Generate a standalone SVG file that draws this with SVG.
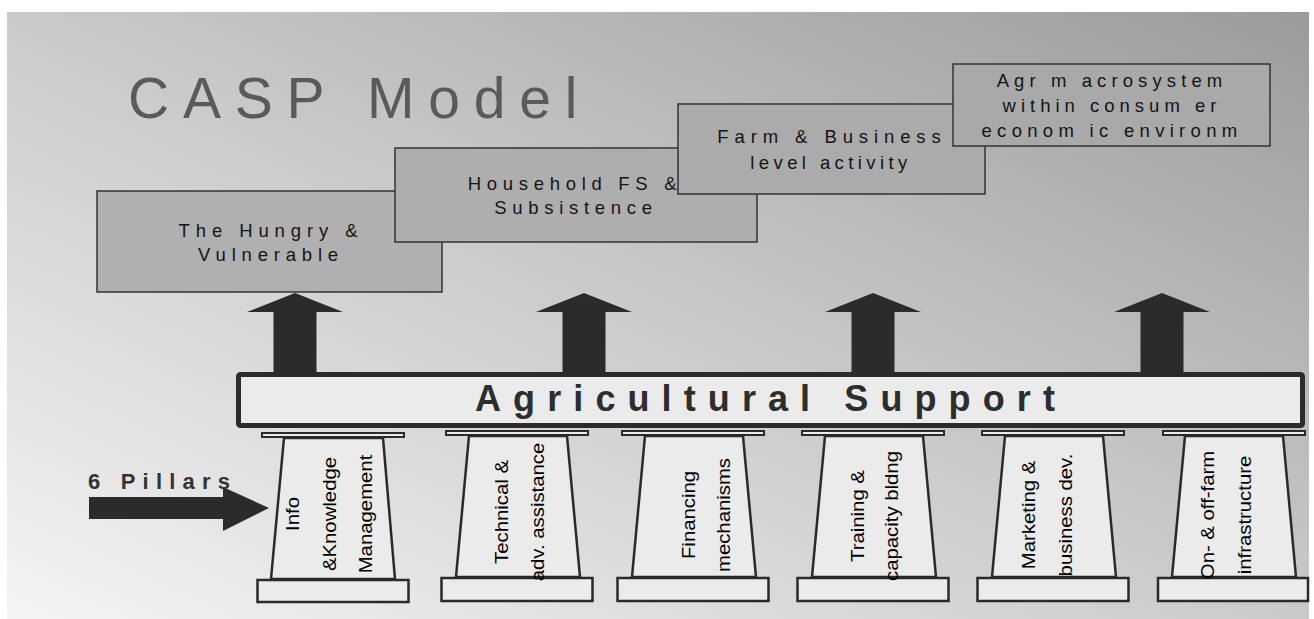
<svg xmlns="http://www.w3.org/2000/svg" width="1314" height="619" viewBox="0 0 1314 619">
  <style>
    .lvl { stroke: #333333; stroke-width: 1.5; }
    .lvl-text { font-family: "Liberation Sans", Arial, sans-serif; font-size: 18.5px; fill: #141414; text-anchor: middle; }
    .part { fill: #ebebeb; stroke: #2a2a2a; stroke-width: 2.5; stroke-linejoin: miter; }
    .cap { fill: #ebebeb; stroke: #2a2a2a; stroke-width: 2; }
    .pillar-text { font-family: "Liberation Sans", Arial, sans-serif; font-size: 18px; fill: #000000; text-anchor: middle; }
    .block { fill: #2b2b2b; }
  </style>
  <defs>
    <linearGradient id="bg" x1="0" y1="1" x2="1" y2="0">
      <stop offset="0" stop-color="#f4f4f4"/>
      <stop offset="0.5" stop-color="#cacaca"/>
      <stop offset="1" stop-color="#9b9b9b"/>
    </linearGradient>
  </defs>

  <!-- backdrop -->
  <rect x="0" y="0" width="1314" height="619" fill="#ffffff"/>
  <rect x="7" y="12" width="1302" height="607" fill="url(#bg)"/>

  <!-- title -->
  <text id="title" x="128" y="118" font-family="'Liberation Sans', Arial, sans-serif" font-size="57" letter-spacing="13.8" fill="#5a5a5a">CASP Model</text>

  <!-- levels, each drawn over the previous one -->
  <g id="level-hungry">
    <rect class="lvl" x="97" y="191" width="345" height="101" fill="#b0b0b0"/>
    <text class="lvl-text" letter-spacing="5.9" x="271" y="237">The Hungry &amp;</text>
    <text class="lvl-text" letter-spacing="5.8" x="271" y="261">Vulnerable</text>
  </g>
  <g id="level-household">
    <rect class="lvl" x="395" y="148" width="362" height="94" fill="#aeaeae"/>
    <text class="lvl-text" letter-spacing="5.7" x="575" y="190">Household FS &amp;</text>
    <text class="lvl-text" letter-spacing="5.7" x="576" y="214">Subsistence</text>
  </g>
  <g id="level-farm">
    <rect class="lvl" x="678" y="104" width="307" height="90" fill="#ababab" stroke="#555555"/>
    <text class="lvl-text" letter-spacing="5.9" x="832" y="143">Farm &amp; Business</text>
    <text class="lvl-text" letter-spacing="4.4" x="831" y="169">level activity</text>
  </g>
  <g id="level-macro">
    <rect class="lvl" x="953" y="64" width="317" height="82" fill="#a9a9a9"/>
    <text class="lvl-text" letter-spacing="5.1" x="1112" y="87">Agr m acrosystem</text>
    <text class="lvl-text" letter-spacing="5.0" x="1112" y="112">within consum er</text>
    <text class="lvl-text" letter-spacing="5.3" x="1112" y="137">econom ic environm</text>
  </g>

  <!-- block arrows -->
  <g id="connectors">
    <polygon class="block" points="295,293 343,312 316.5,312 316.5,376 273.5,376 273.5,312 247,312"/>
    <polygon class="block" points="584,293 632,312 605.5,312 605.5,376 562.5,376 562.5,312 536,312"/>
    <polygon class="block" points="873,293 921,312 894.5,312 894.5,376 851.5,376 851.5,312 825,312"/>
    <polygon class="block" points="1162,293 1210,312 1183.5,312 1183.5,376 1140.5,376 1140.5,312 1114,312"/>
    <polygon class="block" points="89,497 223,497 223,487 269,508 223,531 223,519 89,519"/>
  </g>

  <!-- support beam -->
  <g id="support">
    <rect x="238.5" y="374.5" width="1064" height="51" rx="2" fill="#ebebeb" stroke="#2b2b2b" stroke-width="5"/>
    <text x="475" y="411" font-family="'Liberation Sans', Arial, sans-serif" font-size="36" font-weight="bold" letter-spacing="12.1" fill="#2d2d2d">Agricultural Support</text>
  </g>

  <text id="pillars-label" x="88" y="489" font-family="'Liberation Sans', Arial, sans-serif" font-size="22" font-weight="bold" letter-spacing="7.2" fill="#333333">6 Pillars</text>

  <!-- pillars -->
  <g id="pillar-info">
    <rect class="cap" x="262" y="433" width="142" height="4"/>
    <polygon class="part" points="284,438 383,438 395,579 271,579"/>
    <rect class="part" x="257.5" y="580" width="151" height="22"/>
    <text class="pillar-text" transform="translate(299,514) rotate(-90) scale(1.13,1)">Info</text>
    <text class="pillar-text" transform="translate(336,514) rotate(-90) scale(1.13,1)">&amp;Knowledge</text>
    <text class="pillar-text" transform="translate(372,514) rotate(-90) scale(1.13,1)">Management</text>
  </g>
  <g id="pillar-technical">
    <rect class="cap" x="446" y="431" width="142" height="4"/>
    <polygon class="part" points="469,436 567,436 580,577 456,577"/>
    <rect class="part" x="441.5" y="578" width="151" height="23"/>
    <text class="pillar-text" transform="translate(508,512) rotate(-90) scale(1.13,1)">Technical &amp;</text>
    <text class="pillar-text" transform="translate(544,512) rotate(-90) scale(1.13,1)">adv. assistance</text>
  </g>
  <g id="pillar-financing">
    <rect class="cap" x="622" y="431" width="142" height="4"/>
    <polygon class="part" points="645,436 743,436 756,577 632,577"/>
    <rect class="part" x="617.5" y="578" width="151" height="23"/>
    <text class="pillar-text" transform="translate(695,515) rotate(-90) scale(1.13,1)">Financing</text>
    <text class="pillar-text" transform="translate(730,515) rotate(-90) scale(1.13,1)">mechanisms</text>
  </g>
  <g id="pillar-training">
    <rect class="cap" x="802" y="431" width="142" height="4"/>
    <polygon class="part" points="825,436 923,436 936,577 812,577"/>
    <rect class="part" x="797.5" y="578" width="151" height="23"/>
    <text class="pillar-text" transform="translate(864,516) rotate(-90) scale(1.13,1)">Training &amp;</text>
    <text class="pillar-text" transform="translate(898,516) rotate(-90) scale(1.13,1)">capacity bldng</text>
  </g>
  <g id="pillar-marketing">
    <rect class="cap" x="982" y="431" width="142" height="4"/>
    <polygon class="part" points="1005,436 1103,436 1116,577 992,577"/>
    <rect class="part" x="977.5" y="578" width="151" height="23"/>
    <text class="pillar-text" transform="translate(1035,515) rotate(-90) scale(1.13,1)">Marketing &amp;</text>
    <text class="pillar-text" transform="translate(1072,515) rotate(-90) scale(1.13,1)">business dev.</text>
  </g>
  <g id="pillar-infrastructure">
    <rect class="cap" x="1163" y="431" width="142" height="4"/>
    <polygon class="part" points="1185,436 1283,436 1296,577 1172,577"/>
    <rect class="part" x="1158" y="578" width="150" height="23"/>
    <text class="pillar-text" transform="translate(1214,515) rotate(-90) scale(1.13,1)">On- &amp; off-farm</text>
    <text class="pillar-text" transform="translate(1251,515) rotate(-90) scale(1.13,1)">infrastructure</text>
  </g>
</svg>
